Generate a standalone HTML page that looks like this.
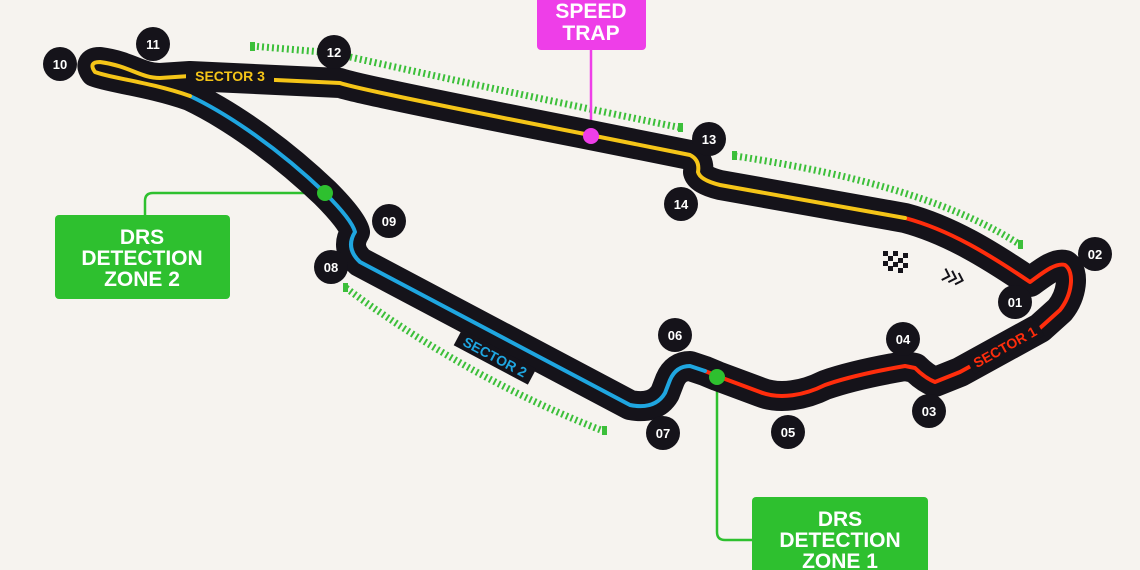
<!DOCTYPE html>
<html><head><meta charset="utf-8"><style>
html,body{margin:0;padding:0;background:#f6f3ef;}
svg{display:block}
text{font-family:"Liberation Sans",sans-serif;font-weight:bold;}
</style></head><body>
<svg width="1140" height="570" viewBox="0 0 1140 570" xmlns="http://www.w3.org/2000/svg">
<rect width="1140" height="570" fill="#f6f3ef"/>
<!-- barriers -->
<g stroke="#3cbf3a" stroke-width="7" stroke-dasharray="2 3" fill="none">
<path d="M252,46 L322,52"/>
<path d="M350,57 Q520,95 682,128"/>
<path d="M735,156 Q930,185 1022,246"/>
<path d="M346,288 Q470,380 606,432"/>
</g>
<g fill="#3cbf3a"><rect x="250" y="42" width="5" height="9"/><rect x="678" y="123" width="5" height="9"/><rect x="732" y="151" width="5" height="9"/><rect x="1018" y="240" width="5" height="9"/><rect x="343" y="283" width="5" height="9"/><rect x="602" y="426" width="5" height="9"/></g>
<!-- connectors -->
<path d="M591,50 L591,136" stroke="#ee3ee8" stroke-width="2.5" fill="none"/>
<path d="M145,215 L145,201 Q145,193 153,193 L325,193" stroke="#2ec02f" stroke-width="2.5" fill="none"/>
<path d="M717,377 L717,532 Q717,540 725,540 L752,540" stroke="#2ec02f" stroke-width="2.5" fill="none"/>
<!-- track -->
<g fill="none" stroke-linejoin="round" stroke-linecap="round">
<path stroke="#15131a" stroke-width="30" d="M905,218 C950,230 990,255 1030,282 C1040,275 1055,262 1065,265 C1075,272 1072,295 1060,310 L1040,328 L960,372 L935,382 Q925,378 915,368 L905,366 C870,372 845,378 825,385 C805,395 780,400 760,392 L717,376 L705,371 L690,366 Q676,366 670,380 L665,393 Q655,410 630,405 L360,262 Q345,248 355,232 Q352,220 325,193 C280,150 230,115 190,96 C150,82 110,78 95,72 Q88,62 100,62 C130,66 140,78 160,78 L190,76 L340,83 Q360,90 590,135 L690,155 Q700,160 698,172 Q700,180 720,185 Z"/>
<path stroke="#ff2d0c" stroke-width="4" d="M905,218 C950,230 990,255 1030,282 C1040,275 1055,262 1065,265 C1075,272 1072,295 1060,310 L1040,328 L960,372 L935,382 Q925,378 915,368 L905,366 C870,372 845,378 825,385 C805,395 780,400 760,392 L717,376 L705,371"/>
<path stroke="#1fa6e0" stroke-width="4" d="M705,371 L690,366 Q676,366 670,380 L665,393 Q655,410 630,405 L360,262 Q345,248 355,232 Q352,220 325,193 C280,150 230,115 190,96"/>
<path stroke="#f5c518" stroke-width="4" d="M190,96 C150,82 110,78 95,72 Q88,62 100,62 C130,66 140,78 160,78 L190,76 L340,83 Q360,90 590,135 L690,155 Q700,160 698,172 Q700,180 720,185 L905,218"/>
</g>
<!-- sector labels -->
<rect x="186" y="67" width="88" height="18" fill="#15131a"/>
<text x="230" y="81" font-size="14" fill="#f5c518" text-anchor="middle">SECTOR 3</text>
<g transform="translate(495,357) rotate(28)"><rect x="-42" y="-9" width="84" height="18" fill="#15131a"/><text x="0" y="5" font-size="14" fill="#1fa6e0" text-anchor="middle">SECTOR 2</text></g>
<g transform="translate(1005,347) rotate(-29)"><rect x="-40" y="-9" width="80" height="18" fill="#15131a"/><text x="0" y="5" font-size="14" fill="#ff2d0c" text-anchor="middle">SECTOR 1</text></g>
<!-- dots -->
<circle cx="591" cy="136" r="8" fill="#ee3ee8"/>
<circle cx="325" cy="193" r="8" fill="#2ec02f"/>
<circle cx="717" cy="377" r="8" fill="#2ec02f"/>
<!-- flag & chevrons -->
<g fill="#15131a">
<rect x="883" y="251" width="5" height="5"/><rect x="893" y="251" width="5" height="5"/><rect x="903" y="253" width="5" height="5"/>
<rect x="888" y="256" width="5" height="5"/><rect x="898" y="258" width="5" height="5"/>
<rect x="883" y="261" width="5" height="5"/><rect x="893" y="262" width="5" height="5"/><rect x="903" y="263" width="5" height="5"/>
<rect x="888" y="266" width="5" height="5"/><rect x="898" y="268" width="5" height="5"/>
</g>
<g stroke="#15131a" stroke-width="2" fill="none" transform="rotate(18 955 278)">
<path d="M943,272 L949,278 L943,284"/><path d="M950,272 L956,278 L950,284"/><path d="M957,272 L963,278 L957,284"/>
</g>
<!-- turn numbers -->
<g font-size="13" fill="#fff" text-anchor="middle">
<g fill="#15131a"><circle cx="60" cy="64" r="17"/><circle cx="153" cy="44" r="17"/><circle cx="334" cy="52" r="17"/><circle cx="709" cy="139" r="17"/><circle cx="681" cy="204" r="17"/><circle cx="389" cy="221" r="17"/><circle cx="331" cy="267" r="17"/><circle cx="675" cy="335" r="17"/><circle cx="663" cy="433" r="17"/><circle cx="788" cy="432" r="17"/><circle cx="903" cy="339" r="17"/><circle cx="929" cy="411" r="17"/><circle cx="1015" cy="302" r="17"/><circle cx="1095" cy="254" r="17"/></g>
<text x="60" y="69">10</text><text x="153" y="49">11</text><text x="334" y="57">12</text><text x="709" y="144">13</text><text x="681" y="209">14</text><text x="389" y="226">09</text><text x="331" y="272">08</text><text x="675" y="340">06</text><text x="663" y="438">07</text><text x="788" y="437">05</text><text x="903" y="344">04</text><text x="929" y="416">03</text><text x="1015" y="307">01</text><text x="1095" y="259">02</text>
</g>
<!-- boxes -->
<rect x="537" y="-6" width="109" height="56" rx="4" fill="#ee3ee8"/>
<text x="591" y="18" font-size="21" fill="#fff" text-anchor="middle">SPEED</text>
<text x="591" y="40" font-size="21" fill="#fff" text-anchor="middle">TRAP</text>
<rect x="55" y="215" width="175" height="84" rx="4" fill="#2ec02f"/>
<text x="142" y="244" font-size="21" fill="#fff" text-anchor="middle">DRS</text>
<text x="142" y="265" font-size="21" fill="#fff" text-anchor="middle">DETECTION</text>
<text x="142" y="286" font-size="21" fill="#fff" text-anchor="middle">ZONE 2</text>
<rect x="752" y="497" width="176" height="84" rx="4" fill="#2ec02f"/>
<text x="840" y="526" font-size="21" fill="#fff" text-anchor="middle">DRS</text>
<text x="840" y="547" font-size="21" fill="#fff" text-anchor="middle">DETECTION</text>
<text x="840" y="568" font-size="21" fill="#fff" text-anchor="middle">ZONE 1</text>
</svg>
</body></html>
